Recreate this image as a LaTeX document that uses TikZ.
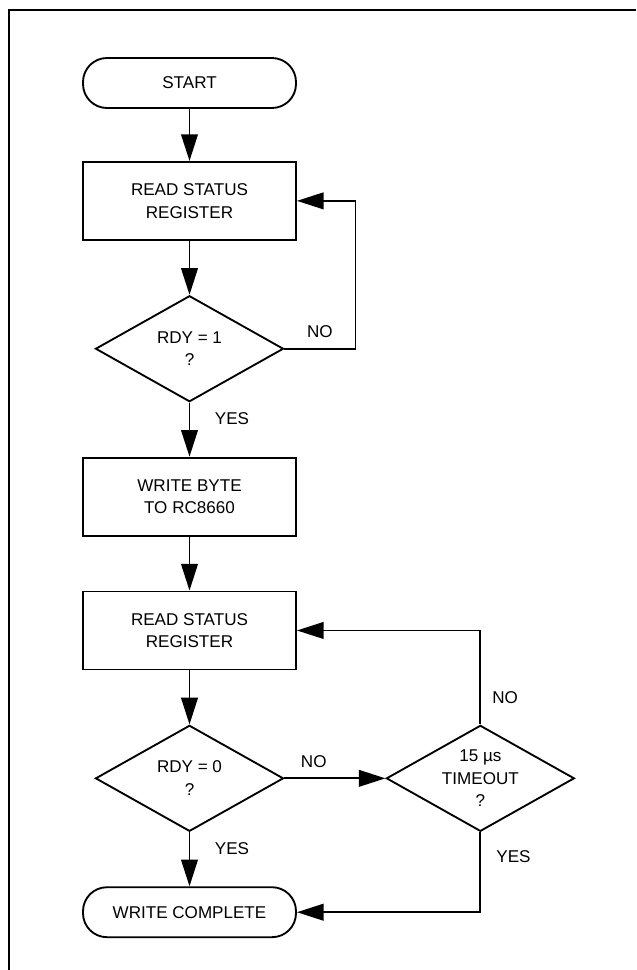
\documentclass[tikz,border=0pt]{standalone}
\usepackage{fontspec}
\setmainfont{Liberation Sans}
\usetikzlibrary{arrows.meta,positioning,shapes.geometric}
\tikzset{
  flow/.style={draw, line width=1.4pt, -{Triangle[length=20pt,width=12.5pt]}},
  term/.style={draw, line width=1.4pt, rounded corners=18pt, minimum width=159.75pt, minimum height=37.5pt, align=center},
  proc/.style={draw, line width=1.4pt, minimum width=159.75pt, minimum height=58.5pt, align=center},
  decide/.style={draw, diamond, line width=1.4pt, aspect=1.77, inner sep=0pt, minimum width=141pt, minimum height=79.5pt, align=center}
}

\begin{document}
\begin{tikzpicture}[x=0.75pt,y=-0.75pt, every node/.style={font=\fontsize{12.8}{17}\selectfont}]
\useasboundingbox (0,0) rectangle (636,970);
% frame
\draw[line width=1.4pt] (636,10) -- (9,10) -- (9,970);

% boxes
\node[term] (start) at (189.5,83) {START};
\node[proc, below=39pt of start] (rdstat) {READ STATUS\\REGISTER};
\node[decide, below=40.5pt of rdstat] (rdyone) {RDY = 1\\?};
\node[proc, below=40.5pt of rdyone] (wrbyte) {WRITE BYTE\\TO RC8660};
\node[proc, below=40.5pt of wrbyte] (rdstatb) {READ STATUS\\REGISTER};
\node[decide, below=40.5pt of rdstatb] (rdyzero) {RDY = 0\\?};
\node[decide, right=75.75pt of rdyzero] (tmout) {15 µs\\TIMEOUT\\?};
\node[term, below=40.5pt of rdyzero] (done) {WRITE COMPLETE};

% arrows
\draw[flow] (start) -- (rdstat);
\draw[flow] (rdstat) -- (rdyone);
\draw[flow] (rdyone.east) -- node[midway, above=4pt] {NO} ++(53.25pt,0) |- (rdstat.east);
\draw[flow] (rdyone) -- node[pos=0.3, right=15pt] {YES} (wrbyte);
\draw[flow] (wrbyte) -- (rdstatb);
\draw[flow] (rdstatb) -- (rdyzero);
\draw[flow] (rdyzero) -- node[pos=0.29, above=4pt] {NO} (tmout);
\draw[flow] (tmout.north) |- node[pos=0.14, right=5pt] {NO} (rdstatb.east);
\draw[flow] (rdyzero) -- node[pos=0.3, right=15pt] {YES} (done);
\draw[flow] (tmout.south) |- node[pos=0.15, right=8pt] {YES} (done.east);
\end{tikzpicture}
\end{document}
